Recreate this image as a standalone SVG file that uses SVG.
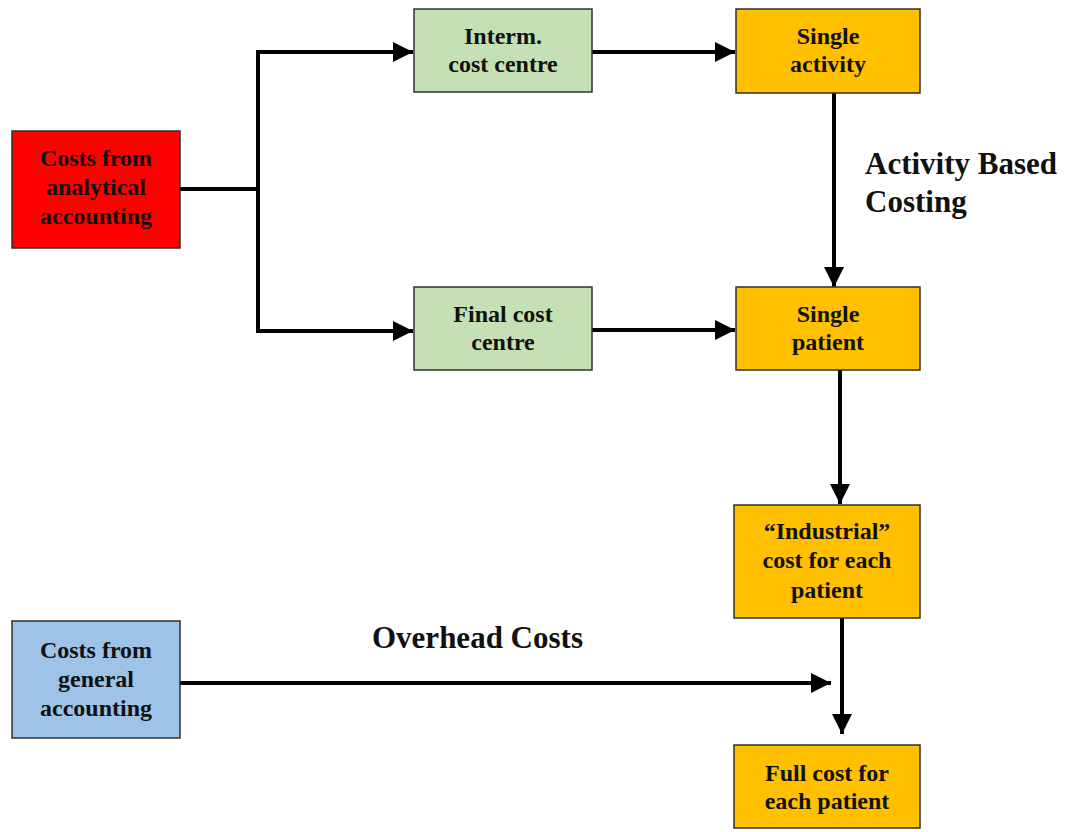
<svg xmlns="http://www.w3.org/2000/svg" width="1066" height="832" viewBox="0 0 1066 832">
  <style>
    .box { stroke: #303030; stroke-width: 1.5; }
    .red { fill: #FF0000; }
    .green { fill: #C5E0B4; }
    .orange { fill: #FFC000; }
    .blue { fill: #9DC3E6; }
    .t { font-family: "Liberation Serif", "Times New Roman", serif; font-weight: bold; font-size: 24px; fill: #111; text-anchor: middle; }
    .lbl { font-family: "Liberation Serif", "Times New Roman", serif; font-weight: bold; font-size: 31px; fill: #111; }
    .ln { fill: none; stroke: #000; stroke-width: 4; }
  </style>
  <defs>
    <marker id="arr" markerWidth="20" markerHeight="20" refX="20" refY="10" orient="auto" markerUnits="userSpaceOnUse" viewBox="0 0 20 20">
      <path d="M0,0 L20,10 L0,20 Z" fill="#000"/>
    </marker>
  </defs>
  <rect width="1066" height="832" fill="#fff"/>

  <g id="connectors">
    <path class="ln" d="M180,189 H258"/>
    <path class="ln" d="M258,189 V52 H413" marker-end="url(#arr)"/>
    <path class="ln" d="M258,189 V331 H413" marker-end="url(#arr)"/>
    <path class="ln" d="M592,52 H735" marker-end="url(#arr)"/>
    <path class="ln" d="M592,330 H735" marker-end="url(#arr)"/>
    <path class="ln" d="M834,93 V287" marker-end="url(#arr)"/>
    <path class="ln" d="M840,370 V504" marker-end="url(#arr)"/>
    <path class="ln" d="M842,618 V734" marker-end="url(#arr)"/>
    <path class="ln" d="M180,683 H831" marker-end="url(#arr)"/>
  </g>

  <g id="analytical">
    <rect class="box red" x="12" y="131" width="168" height="117"/>
    <text class="t" x="96" y="166">Costs from</text>
    <text class="t" x="96" y="195">analytical</text>
    <text class="t" x="96" y="224">accounting</text>
  </g>

  <g id="interm">
    <rect class="box green" x="414" y="9" width="178" height="83"/>
    <text class="t" x="503" y="44">Interm.</text>
    <text class="t" x="503" y="72">cost centre</text>
  </g>

  <g id="final">
    <rect class="box green" x="414" y="287" width="178" height="83"/>
    <text class="t" x="503" y="322">Final cost</text>
    <text class="t" x="503" y="350">centre</text>
  </g>

  <g id="activity">
    <rect class="box orange" x="736" y="9" width="184" height="84"/>
    <text class="t" x="828" y="44">Single</text>
    <text class="t" x="828" y="72">activity</text>
  </g>

  <g id="patient">
    <rect class="box orange" x="736" y="287" width="184" height="83"/>
    <text class="t" x="828" y="322">Single</text>
    <text class="t" x="828" y="350">patient</text>
  </g>

  <g id="industrial">
    <rect class="box orange" x="734" y="505" width="186" height="113"/>
    <text class="t" x="827" y="539">“Industrial”</text>
    <text class="t" x="827" y="568">cost for each</text>
    <text class="t" x="827" y="598">patient</text>
  </g>

  <g id="fullcost">
    <rect class="box orange" x="734" y="745" width="186" height="83"/>
    <text class="t" x="827" y="781">Full cost for</text>
    <text class="t" x="827" y="809">each patient</text>
  </g>

  <g id="general">
    <rect class="box blue" x="12" y="621" width="168" height="117"/>
    <text class="t" x="96" y="658">Costs from</text>
    <text class="t" x="96" y="687">general</text>
    <text class="t" x="96" y="716">accounting</text>
  </g>

  <g id="labels">
    <text class="lbl" x="865" y="174">Activity Based</text>
    <text class="lbl" x="865" y="212">Costing</text>
    <text class="lbl" x="372" y="648">Overhead Costs</text>
  </g>
</svg>
